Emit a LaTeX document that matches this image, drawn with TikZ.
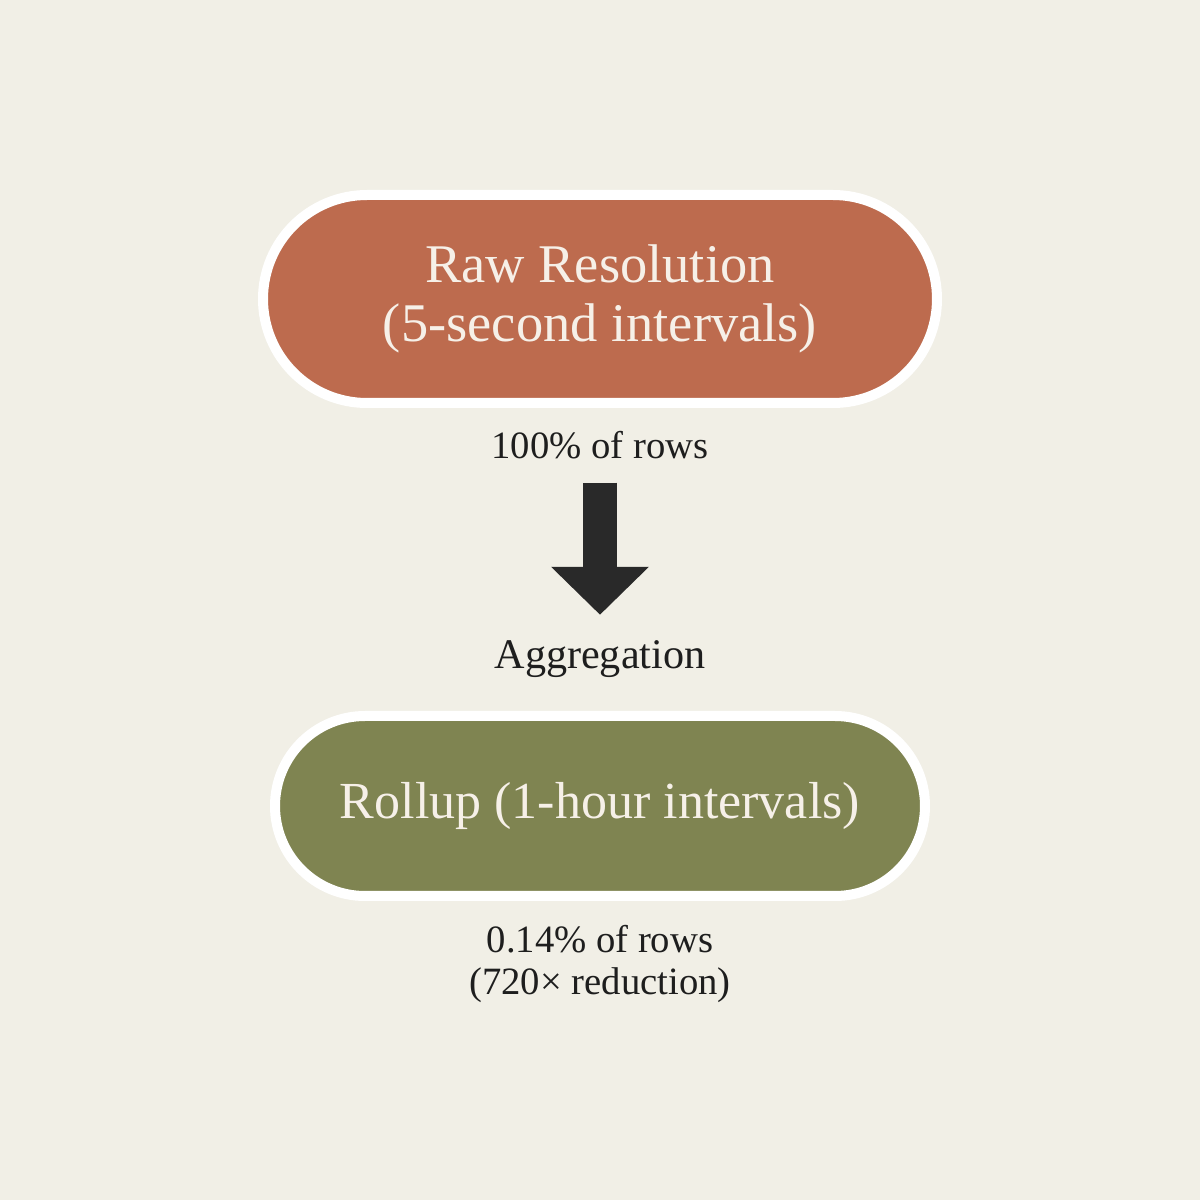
\documentclass[tikz,border=0pt]{standalone}
\usepackage{fontspec}
\setmainfont{Liberation Serif}
\usetikzlibrary{arrows.meta}
\definecolor{paper}{HTML}{F1EFE6}
\definecolor{rawred}{HTML}{BD6B4E}
\definecolor{rollgreen}{HTML}{7F8451}
\definecolor{pilltext}{HTML}{F6F0E8}
\definecolor{ink}{HTML}{1E1E1E}
\tikzset{
  pill/.style={draw=white, line width=0.1cm, text=pilltext, align=center,
    font=\fontsize{15.5}{17}\selectfont},
  note/.style={text=ink, align=center, inner sep=0pt,
    font=\fontsize{11}{12.2}\selectfont},
  flowarrow/.style={draw=ink!95, line width=0.34cm,
    -{Triangle[width=0.95cm,length=0.48cm]}}
}
\begin{document}
\begin{tikzpicture}
      \fill[paper] (0,0) rectangle (12,12);
      \useasboundingbox (0,0) rectangle (12,12);
      \node[pill, fill=rawred, minimum width=6.74cm, minimum height=2.08cm,
        rounded corners=1.04cm] (raw) at (6,9.01)
        {Raw Resolution\\(5-second intervals)};
      \node[note] (rawrows) at (6,7.55) {100\% of rows};
      \node[note, font=\fontsize{12}{13}\selectfont] (agg) at (6,5.41) {Aggregation};
      \node[pill, fill=rollgreen, minimum width=6.50cm, minimum height=1.80cm,
        rounded corners=0.9cm, font=\fontsize{14.8}{17}\selectfont] (rollup) at (6,3.94)
        {Rollup (1-hour intervals)};
      \node[note] (rollrows) at (6,2.36) {0.14\% of rows\\(720× reduction)};
      \draw[flowarrow, shorten <=0.23cm, shorten >=0.25cm] (rawrows.south) -- (agg.north);
    \end{tikzpicture}
\end{document}
